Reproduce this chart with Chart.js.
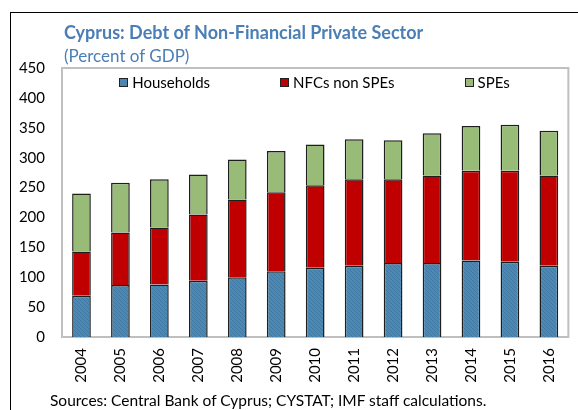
<!DOCTYPE html>
<html>
<head>
<meta charset="utf-8">
<script src="https://cdn.jsdelivr.net/npm/chart.js@4.4.0/dist/chart.umd.min.js"></script>
<style>
body{margin:0;width:578px;height:410px;overflow:hidden;background:#fff;font-family:Lato,"Open Sans",sans-serif;position:relative}
#marco{position:absolute;left:10px;top:12px;width:640px;height:480px;border:1px solid #000}
#titulo{position:absolute;left:64px;top:22px;font-size:18px;line-height:21px;font-weight:bold;color:#4a7eb5;white-space:nowrap}
#subtitulo{position:absolute;left:64px;top:46px;font-size:17px;line-height:20px;color:#4a7eb5;white-space:nowrap}
#leyenda{position:absolute;left:58px;width:513px;top:73px;display:flex;justify-content:center;gap:70px;font-size:15px;line-height:18px}
.item{display:flex;align-items:center;white-space:nowrap}
.caja{width:7px;height:7px;border:1px solid #222;margin-right:4px}
#fuente{position:absolute;left:50px;top:391px;font-size:15.5px;line-height:18px;white-space:nowrap}
#myChart{position:absolute;left:0;top:0}
</style>
</head>
<body>
<div id="marco"></div>
<canvas id="myChart" width="578" height="410"></canvas>
<div id="titulo">Cyprus: Debt of Non-Financial Private Sector</div>
<div id="subtitulo">(Percent of GDP)</div>
<div id="leyenda"></div>
<div id="fuente">Sources: Central Bank of Cyprus; CYSTAT; IMF staff calculations.</div>
<script>
var anios = ["2004","2005","2006","2007","2008","2009","2010","2011","2012","2013","2014","2015","2016"];
var hogares = [69, 87, 88, 94, 100, 110, 116, 119, 124, 124, 128, 126, 119];
var nfcs = [74, 88, 95, 111, 130, 132, 138, 145, 140, 146, 150, 152, 151];
var spes = [97, 83, 81, 67, 67, 69, 68, 67, 65, 71, 75, 77, 75];
var series = ["Households", "NFCs non SPEs", "SPEs"];
var colores = ["#4a86b0", "#c00000", "#98bc78"];

function rayado()
{
    var c = document.createElement('canvas');
    c.width = 4;
    c.height = 4;
    var g = c.getContext('2d');
    g.fillStyle = '#4d89b3';
    g.fillRect(0, 0, 4, 4);
    g.strokeStyle = '#3f78a3';
    g.lineWidth = 1;
    g.beginPath();
    g.moveTo(0, 0);
    g.lineTo(4, 4);
    g.stroke();
    return g.createPattern(c, 'repeat');
}

function leyenda()
{
    var html = '';
    for (var i in series) {
        html += '<div class="item"><span class="caja" style="background:' + colores[i] + '"></span>' + series[i] + '</div>';
    }
    document.getElementById('leyenda').innerHTML = html;
}

var marcoPlugin = {
    id: 'marcoPlot',
    beforeDatasetsDraw: function(chart) {
        var a = chart.chartArea;
        var ctx = chart.ctx;
        ctx.save();
        ctx.strokeStyle = '#bfbfbf';
        ctx.lineWidth = 2;
        ctx.strokeRect(a.left, a.top, a.right - a.left, a.bottom - a.top);
        ctx.restore();
    }
};

function grafica()
{
    var chartdata = {
        labels: anios,
        datasets: [
            { label: series[0], data: hogares, backgroundColor: rayado(), borderColor: '#1e1e1e', borderWidth: 1.5 },
            { label: series[1], data: nfcs, backgroundColor: colores[1], borderColor: '#1e1e1e', borderWidth: 1.5 },
            { label: series[2], data: spes, backgroundColor: colores[2], borderColor: '#1e1e1e', borderWidth: 1.5 }
        ]
    };
    var ctx = document.getElementById('myChart');
    new Chart(ctx, {
        type: 'bar',
        data: chartdata,
        options: {
            responsive: false,
            animation: false,
            datasets: { bar: { barPercentage: 0.48, categoryPercentage: 1 } },
            layout: { padding: { left: 0, right: 3, top: 68, bottom: 0 } },
            plugins: { legend: { display: false }, tooltip: { enabled: false } },
            scales: {
                x: {
                    stacked: true,
                    grid: { display: false, drawTicks: false },
                    border: { display: false },
                    ticks: { minRotation: 90, maxRotation: 90, padding: 11, color: '#000', font: { family: 'Lato', size: 15 } },
                    afterFit: function(s) { s.height = 73; }
                },
                y: {
                    stacked: true,
                    min: 0,
                    max: 450,
                    grid: { display: false, drawTicks: false },
                    border: { display: false },
                    ticks: { stepSize: 50, padding: 17, color: '#000', font: { family: 'Lato', size: 15 } },
                    afterFit: function(s) { s.width = 62; }
                }
            }
        },
        plugins: [marcoPlugin]
    });
}

leyenda();
grafica();
</script>
</body>
</html>
